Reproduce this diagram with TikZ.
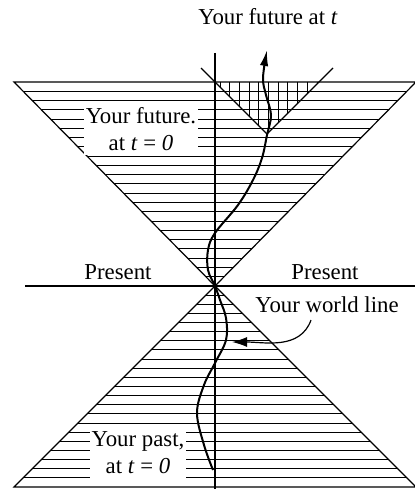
\documentclass[tikz,border=0pt]{standalone}
\usepackage{fontspec}
\setmainfont{Liberation Serif}
\usetikzlibrary{arrows.meta,positioning,calc}

\begin{document}
\begin{tikzpicture}[
  x=0.5pt, y=-0.5pt,
  font=\fontsize{11.4}{13.5}\selectfont,
  cone/.style={line width=0.6pt},
  hatch/.style={line width=0.5pt},
  axis/.style={line width=0.7pt},
  wline/.style={line width=1pt, -{Latex[length=8pt,width=4.2pt]}},
  pointer/.style={line width=0.6pt, -{Latex[length=7.5pt,width=5pt]}},
  lab/.style={fill=white, align=center, inner xsep=1pt, inner ysep=2pt},
]
\useasboundingbox (0,0) rectangle (415,491);

% corners of the two cones and of the cone at t
\coordinate (o)  at (215,286);
\coordinate (ftl) at (14,82);   \coordinate (ftr) at (416,82);
\coordinate (pbl) at (14,487);  \coordinate (pbr) at (416,487);
\coordinate (t)  at (267,134);
\coordinate (tl) at (201,68);   \coordinate (tr) at (333,68);

% horizontal hatching, future and past
\begin{scope}
  \clip (0,0) rectangle (415,491);
  \clip (ftl) -- (o) -- (ftr) -- cycle;
  \foreach \k in {1,...,21}
    \draw[hatch] (0,{82+\k*9.27}) -- (415,{82+\k*9.27});
\end{scope}
\begin{scope}
  \clip (0,0) rectangle (415,491);
  \clip (pbl) -- (o) -- (pbr) -- cycle;
  \foreach \k in {1,...,21}
    \draw[hatch] (0,{286+\k*9.14}) -- (415,{286+\k*9.14});
\end{scope}

% vertical hatching inside the future at t
\begin{scope}
  \clip (215,82) -- (t) -- (319,82) -- cycle;
  \foreach \x in {220,229.7,...,320}
    \draw[hatch] (\x,82) -- (\x,140);
\end{scope}

% cones
\begin{scope}
  \clip (0,0) rectangle (415,491);
  \draw[cone] (ftl) -- (o) -- (pbr) -- (pbl) -- (o) -- (ftr) -- cycle;
\end{scope}
\draw[cone] (tl) -- (t) -- (tr);

% axis and present
\draw[axis] (215,53) -- (215,489);
\draw[cone] (25,286) -- (415,286);

% labels
\node[lab] (fut0) at (141,129) {Your future.\\at \textit{t} = \textit{0}};
\node[lab] (past0) at (138,453) {Your past,\\at \textit{t} = \textit{0}};
\node (futt) at (268,17) {Your future at \textit{t}};
\node (presl) at (118,272) {Present};
\node (presr) at (325,272) {Present};
\node (wl) at (327,305) {Your world line};

% world line
\draw[wline] plot[smooth, tension=0.6] coordinates {
  (213,470) (204,445) (197,413) (204,385) (215,363) (226,340) (226,318)
  (220,300) (215,286) (208,270) (208,250) (215,233) (238,205) (253,180)
  (262,158) (267,135) (271,115) (266,95) (263,78) (267,50)};
\coordinate (hit) at (232,342);
\draw[pointer] ([xshift=-8pt]wl.south) to[out=250,in=0] (hit);
\end{tikzpicture}
\end{document}
